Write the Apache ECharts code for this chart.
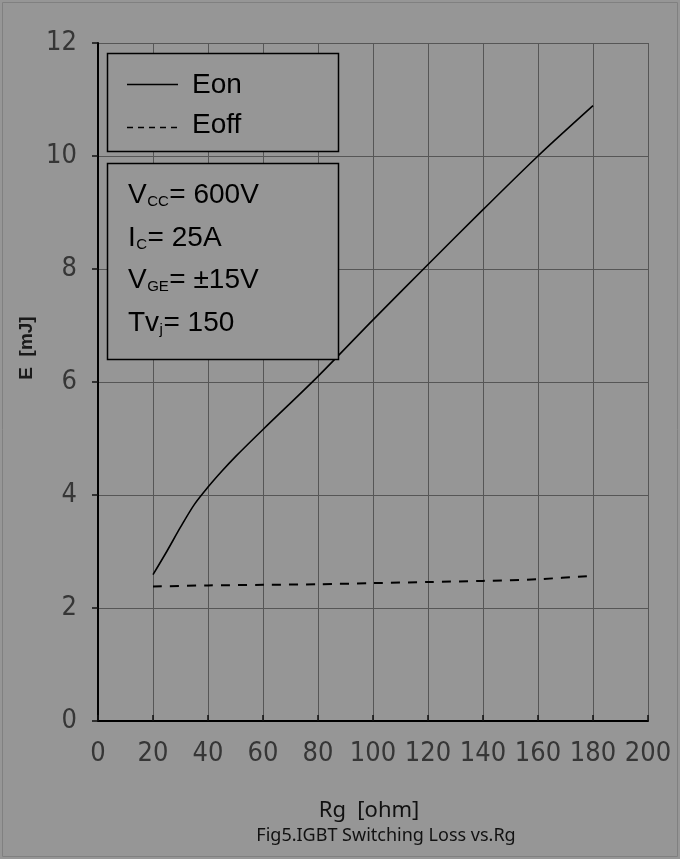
<!DOCTYPE html>
<html>
<head>
<meta charset="utf-8">
<script src="https://cdn.jsdelivr.net/npm/echarts@6/dist/echarts.min.js"></script>
<style>
  html, body { margin: 0; padding: 0; background: #969696; }
  #chart { width: 680px; height: 859px; }
</style>
</head>
<body>
<div id="chart"></div>
<script>
// ---- data ----
const rgEon = [20, 25, 30, 35, 40, 45, 50, 60, 80, 100, 120, 140, 160, 180];
const eonValues = [2.59, 3.0, 3.43, 3.83, 4.14, 4.42, 4.68, 5.16, 6.1, 7.1, 8.08, 9.05, 10.0, 10.89];
const rgEoff = [20, 40, 60, 80, 100, 120, 140, 160, 180];
const eoffValues = [2.38, 2.40, 2.41, 2.42, 2.44, 2.46, 2.48, 2.51, 2.57];
const seriesNames = ['Eon', 'Eoff'];
const xTicks = { min: 0, max: 200, interval: 20 };
const yTicks = { min: 0, max: 12, interval: 2 };
const condLines = [
  ['V', 'CC', '= 600V'],
  ['I', 'C', '= 25A'],
  ['V', 'GE', '= \u00b115V'],
  ['Tv', 'j', '= 150']
];
const xAxisName = 'Rg  [ohm]';
const yAxisName = 'E  [mJ]';
const chartTitle = 'Fig5.IGBT Switching Loss vs.Rg';

const chart = echarts.init(document.getElementById('chart'), null, { renderer: 'canvas' });
const tickFont = "'Liberation Sans Narrow', 'DejaVu Sans Condensed', 'Liberation Sans', sans-serif";
const boxFont = "'Liberation Sans', Arial, sans-serif";

// measure text widths for the condition box
const mctx = document.createElement('canvas').getContext('2d');
function w(text, size) { mctx.font = size + 'px ' + boxFont; return mctx.measureText(text).width; }

const condGraphics = [];
condLines.forEach((l, i) => {
  const base = 205 + i * 42.7;
  let x = 128;
  condGraphics.push({ type: 'text', z: 11, x: x, y: base - 0.35 * 28,
    style: { text: l[0], fill: '#000', fontSize: 28, fontFamily: boxFont, verticalAlign: 'middle' } });
  x += w(l[0], 28) + 0.5;
  condGraphics.push({ type: 'text', z: 11, x: x, y: base + 2 - 0.35 * 15,
    style: { text: l[1], fill: '#000', fontSize: 15, fontFamily: boxFont, verticalAlign: 'middle' } });
  x += w(l[1], 15) + 0.5;
  condGraphics.push({ type: 'text', z: 11, x: x, y: base - 0.35 * 28,
    style: { text: l[2], fill: '#000', fontSize: 28, fontFamily: boxFont, verticalAlign: 'middle' } });
});

const option = {
  backgroundColor: '#969696',
  animation: false,
  grid: { left: 98, right: 32, top: 43, bottom: 138, containLabel: false },
  xAxis: {
    type: 'value', min: xTicks.min, max: xTicks.max, interval: xTicks.interval,
    axisLine: { show: true, onZero: false, lineStyle: { color: '#000', width: 2 } },
    axisTick: { show: true, inside: true, length: 6, lineStyle: { color: '#111', width: 1.5 } },
    axisLabel: { margin: 19, fontSize: 27, color: '#363636', fontFamily: tickFont },
    splitLine: { show: true, lineStyle: { color: '#565656', width: 1 } }
  },
  yAxis: {
    type: 'value', min: yTicks.min, max: yTicks.max, interval: yTicks.interval,
    axisLine: { show: true, onZero: false, lineStyle: { color: '#000', width: 2 } },
    axisTick: { show: true, inside: false, length: 6, lineStyle: { color: '#111', width: 1.5 } },
    axisLabel: { margin: 21, fontSize: 27, color: '#363636', fontFamily: tickFont },
    splitLine: { show: true, lineStyle: { color: '#565656', width: 1 } }
  },
  series: [
    {
      name: seriesNames[0], type: 'line', symbol: 'none', smooth: 0.3,
      data: rgEon.map((x, i) => [x, eonValues[i]]),
      lineStyle: { color: '#000', width: 1.6 }, itemStyle: { color: '#000' }, z: 5
    },
    {
      name: seriesNames[1], type: 'line', symbol: 'none', smooth: 0.3,
      data: rgEoff.map((x, i) => [x, eoffValues[i]]),
      lineStyle: { color: '#000', width: 2, type: [9, 8] }, itemStyle: { color: '#000' }, z: 5
    }
  ],
  graphic: [
    { type: 'rect', z: 1, silent: true, shape: { x: 2.5, y: 2.5, width: 675, height: 854 },
      style: { fill: 'none', stroke: '#808080', lineWidth: 1 } },
    // legend box
    { type: 'rect', z: 10, shape: { x: 107.5, y: 53.5, width: 231, height: 98 },
      style: { fill: '#969696', stroke: '#000', lineWidth: 1.5 } },
    { type: 'line', z: 11, shape: { x1: 127, y1: 84.5, x2: 178, y2: 84.5 },
      style: { stroke: '#000', lineWidth: 1.3 } },
    { type: 'text', z: 11, x: 192, y: 85,
      style: { text: seriesNames[0], fill: '#000', fontSize: 28, fontFamily: boxFont, verticalAlign: 'middle' } },
    { type: 'line', z: 11, shape: { x1: 127, y1: 127.5, x2: 178, y2: 127.5 },
      style: { stroke: '#000', lineWidth: 1.3, lineDash: [6, 5] } },
    { type: 'text', z: 11, x: 192, y: 125,
      style: { text: seriesNames[1], fill: '#000', fontSize: 28, fontFamily: boxFont, verticalAlign: 'middle' } },
    // condition box
    { type: 'rect', z: 10, shape: { x: 107.5, y: 163.5, width: 231, height: 196 },
      style: { fill: '#969696', stroke: '#000', lineWidth: 1.5 } },
    ...condGraphics,
    { type: 'text', z: 11, x: 27, y: 348, rotation: Math.PI / 2,
      style: { text: yAxisName, fill: '#1a1a1a', fontSize: 19, fontWeight: 'bold',
        fontFamily: boxFont, align: 'center', verticalAlign: 'middle' } },
    { type: 'text', z: 11, x: 369, y: 811,
      style: { text: xAxisName, fill: '#111', fontSize: 22, fontFamily: "'Noto Sans', sans-serif",
        align: 'center', verticalAlign: 'middle' } },
    { type: 'text', z: 11, x: 386, y: 836,
      style: { text: chartTitle, fill: '#111', fontSize: 18, fontFamily: "'Noto Sans', sans-serif",
        align: 'center', verticalAlign: 'middle' } }
  ]
};
chart.setOption(option);
</script>
</body>
</html>
